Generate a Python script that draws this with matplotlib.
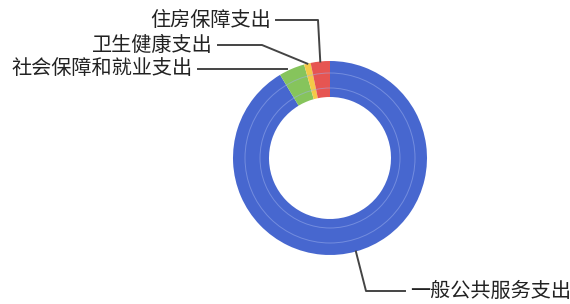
import numpy as np
import matplotlib
matplotlib.use("Agg")
import matplotlib.pyplot as plt

plt.rcParams['font.family'] = ['Noto Sans CJK SC', 'DejaVu Sans']

categories = ['一般公共服务支出', '社会保障和就业支出', '卫生健康支出', '住房保障支出']
values = [91.4, 4.3, 1.1, 3.2]
colors = ['#4767cf', '#86c45c', '#f4c948', '#e65552']

W, H = 570, 304
fig = plt.figure(figsize=(W / 100, H / 100), dpi=100)
ax = fig.add_axes([0, 0, 1, 1])

cx, cy, R, ring = 330, 304 - 158, 97, 36
wedges, _ = ax.pie(values, colors=colors, startangle=90, counterclock=False,
                   radius=R, center=(cx, cy), frame=True,
                   wedgeprops=dict(width=ring, edgecolor='none'))
ax.set_xlim(0, W)
ax.set_ylim(0, H)
ax.set_aspect('equal')
ax.axis('off')

# faint highlight rings inside the band
for rr in (70, 85):
    ax.add_patch(plt.Circle((cx, cy), rr, fill=False, color='#9fb2ee', lw=0.7, alpha=0.5))

def edge_point(w, frac=0.5, r=R):
    a = np.deg2rad(w.theta1 + (w.theta2 - w.theta1) * frac)
    return cx + r * np.cos(a), cy + r * np.sin(a)

lc = '#444444'
fs = 14.5
tc = '#222222'

# 住房保障支出
p = edge_point(wedges[3])
ax.plot([276, 318, p[0]], [H - 20, H - 20, p[1]], color=lc, lw=1.4)
ax.text(271, H - 20, categories[3], ha='right', va='center', fontsize=fs, color=tc)

# 卫生健康支出
p = edge_point(wedges[2])
ax.plot([218, 262, p[0]], [H - 45, H - 45, p[1]], color=lc, lw=1.4)
ax.text(213, H - 45, categories[2], ha='right', va='center', fontsize=fs, color=tc)

# 社会保障和就业支出
p = edge_point(wedges[1], 0.7)
ax.plot([198, p[0]], [H - 69, H - 69], color=lc, lw=1.4)
ax.text(193, H - 69, categories[1], ha='right', va='center', fontsize=fs, color=tc)

# 一般公共服务支出
p = edge_point(wedges[0], 0.5)
ax.plot([p[0], 366, 405], [p[1], H - 291, H - 291], color=lc, lw=1.4)
ax.text(410, H - 291, categories[0], ha='left', va='center', fontsize=fs, color=tc)

fig.savefig('out.png', dpi=100)
